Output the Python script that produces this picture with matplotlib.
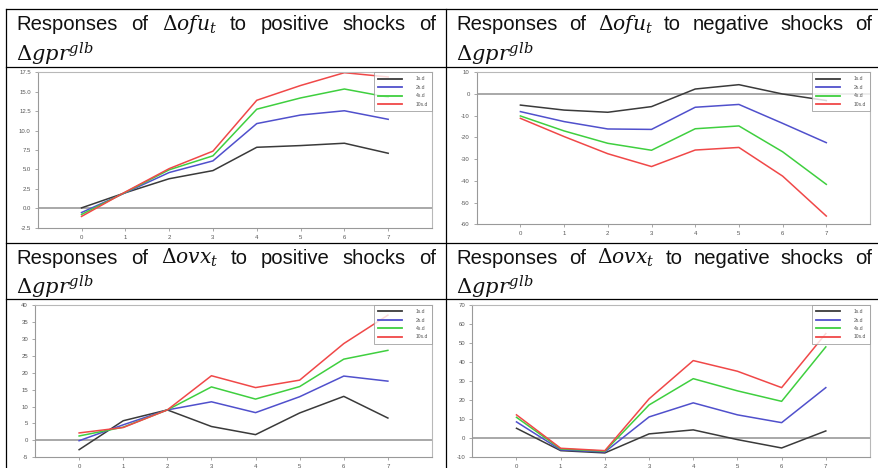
import matplotlib
matplotlib.use("Agg")
import matplotlib.pyplot as plt
import numpy as np

plt.rcParams['font.family'] = ['Liberation Sans', 'DejaVu Sans']
plt.rcParams['mathtext.fontset'] = 'dejavuserif'

# ---------------- data ----------------
horizons = [0, 1, 2, 3, 4, 5, 6, 7]
series_labels = ["1s.d", "2s.d", "4s.d", "10s.d"]

ofu_pos_1sd = [0.05, 2.0, 3.8, 4.85, 7.85, 8.07, 8.37, 7.08]
ofu_pos_2sd = [-0.55, 2.0, 4.6, 6.1, 10.9, 12.0, 12.55, 11.45]
ofu_pos_4sd = [-0.8, 2.05, 4.95, 6.75, 12.75, 14.2, 15.35, 14.3]
ofu_pos_10sd = [-1.05, 2.1, 5.1, 7.35, 13.9, 15.8, 17.45, 16.9]

ofu_neg_1sd = [-5.1, -7.4, -8.4, -5.8, 2.3, 4.3, 0.0, -3.0]
ofu_neg_2sd = [-8.1, -12.7, -16.1, -16.3, -6.1, -4.8, -13.5, -22.4]
ofu_neg_4sd = [-10.1, -17.0, -22.7, -25.9, -16.0, -14.7, -26.6, -41.6]
ofu_neg_10sd = [-11.2, -19.6, -27.5, -33.4, -25.8, -24.6, -37.8, -56.2]

ovx_pos_1sd = [-2.75, 5.8, 9.0, 4.1, 1.7, 8.1, 13.0, 6.6]
ovx_pos_2sd = [-0.1, 4.6, 9.0, 11.4, 8.2, 12.9, 19.0, 17.5]
ovx_pos_4sd = [1.3, 3.9, 9.0, 15.8, 12.2, 15.9, 24.0, 26.6]
ovx_pos_10sd = [2.2, 3.8, 9.0, 19.1, 15.6, 17.8, 28.6, 37.0]

ovx_neg_1sd = [5.25, -6.5, -7.7, 2.3, 4.4, -0.7, -5.1, 3.85]
ovx_neg_2sd = [8.6, -6.1, -7.2, 11.2, 18.6, 12.3, 8.2, 26.6]
ovx_neg_4sd = [11.0, -5.6, -6.8, 17.5, 31.3, 24.9, 19.4, 48.0]
ovx_neg_10sd = [12.3, -5.25, -6.5, 20.7, 40.8, 35.2, 26.6, 55.0]

yticks_p1 = [-2.5, 0.0, 2.5, 5.0, 7.5, 10.0, 12.5, 15.0, 17.5]
yticks_p2 = [-60, -50, -40, -30, -20, -10, 0, 10]
yticks_p3 = [-5, 0, 5, 10, 15, 20, 25, 30, 35, 40]
yticks_p4 = [-10, 0, 10, 20, 30, 40, 50, 60, 70]

titles = [
    (["Responses", "of", r"$\Delta ofu_t$", "to", "positive", "shocks", "of"], r"$\Delta gpr^{glb}$"),
    (["Responses", "of", r"$\Delta ofu_t$", "to", "negative", "shocks", "of"], r"$\Delta gpr^{glb}$"),
    (["Responses", "of", r"$\Delta ovx_t$", "to", "positive", "shocks", "of"], r"$\Delta gpr^{glb}$"),
    (["Responses", "of", r"$\Delta ovx_t$", "to", "negative", "shocks", "of"], r"$\Delta gpr^{glb}$"),
]

colors = ['#3a3a3a', '#5050cc', '#3fcf3f', '#f04848']

W, H = 879, 468
fig = plt.figure(figsize=(W / 100, H / 100), dpi=100)

def fx(x):
    return x / W

def fy(y):
    return 1 - y / H

# ---------------- table lines ----------------
lc = '#000000'
for yy in (9, 66.5, 242.5, 298.5):
    fig.add_artist(plt.Line2D([fx(6.5), 1], [fy(yy), fy(yy)], color=lc, lw=0.9))
for xx in (6.5, 446):
    fig.add_artist(plt.Line2D([fx(xx), fx(xx)], [fy(9), 0], color=lc, lw=0.9))

# ---------------- headers ----------------
renderer = fig.canvas.get_renderer()
hfs = 14.6
mfs = 14.6

def header(words, line2, x0, x1, top):
    texts = []
    for w in words:
        fs = mfs if w.startswith('$') else hfs
        texts.append(fig.text(0, 0, w, fontsize=fs, va='baseline', ha='left', color='#111'))
    widths = [t.get_window_extent(renderer).width for t in texts]
    gap = ((x1 - x0) - sum(widths)) / (len(words) - 1)
    x = x0
    for t, w in zip(texts, widths):
        t.set_position((fx(x), fy(top + 21.5)))
        x += w + gap
    fig.text(fx(x0), fy(top + 52), line2, fontsize=mfs + 0.5, va='baseline', ha='left', color='#111')

cells = [(16.5, 436, 9), (456.5, 872, 9), (16.5, 436, 242.5), (456.5, 872, 242.5)]
for (words, l2), (x0, x1, top) in zip(titles, cells):
    header(words, l2, x0, x1, top)

# ---------------- charts ----------------
panels = [
    ((37.7, 432, 72.3, 227.7), [ofu_pos_1sd, ofu_pos_2sd, ofu_pos_4sd, ofu_pos_10sd], yticks_p1, '%.1f'),
    ((476.7, 870, 72.3, 224.3), [ofu_neg_1sd, ofu_neg_2sd, ofu_neg_4sd, ofu_neg_10sd], yticks_p2, '%d'),
    ((35, 432, 305, 457.3), [ovx_pos_1sd, ovx_pos_2sd, ovx_pos_4sd, ovx_pos_10sd], yticks_p3, '%d'),
    ((472.3, 870, 305, 457.3), [ovx_neg_1sd, ovx_neg_2sd, ovx_neg_4sd, ovx_neg_10sd], yticks_p4, '%d'),
]

frame_c = '#b8b8b8'
for (l, r, t, b), series, yt, fmt in panels:
    ax = fig.add_axes([fx(l), fy(b), (r - l) / W, (b - t) / H])
    ax.axhline(0, color='#a8a8a8', lw=1.4, zorder=1)
    for s, c, lab in zip(series, colors, series_labels):
        ax.plot(horizons, s, color=c, lw=1.1, label=lab, zorder=2)
    ax.set_xlim(-1, 8)
    ax.set_ylim(yt[0], yt[-1])
    ax.set_yticks(yt)
    ax.set_yticklabels([fmt % v for v in yt])
    ax.set_xticks(horizons)
    ax.set_xticklabels([str(h) for h in horizons])
    for sp in ax.spines.values():
        sp.set_color(frame_c)
        sp.set_linewidth(0.8)
    ax.spines['left'].set_color('#999999')
    ax.spines['bottom'].set_color('#999999')
    ax.tick_params(axis='both', length=2.5, width=0.6, color='#999999',
                   labelsize=4.3, labelcolor='#555555', pad=2.5)
    leg = ax.legend(loc='upper right', bbox_to_anchor=(1.0, 1.0), borderaxespad=0,
                    fontsize=3.6, frameon=True, fancybox=False, handlelength=4.8,
                    handletextpad=2.8, labelspacing=0.7, borderpad=0.8,
                    labelcolor='#555555')
    leg.get_frame().set_edgecolor('#999999')
    leg.get_frame().set_linewidth(0.7)
    for h in leg.get_lines():
        h.set_linewidth(1.3)

fig.savefig('out.png', dpi=100)
